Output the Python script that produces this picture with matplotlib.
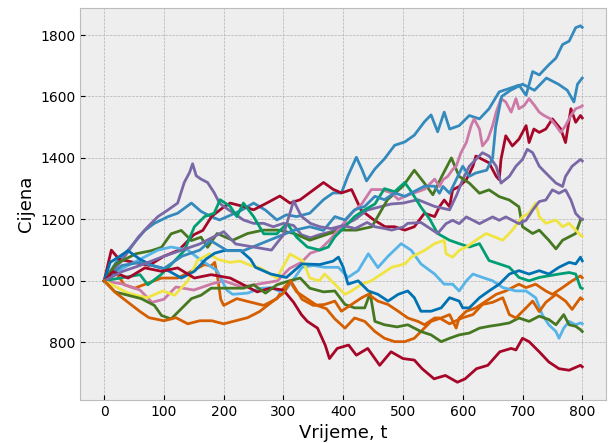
import matplotlib
matplotlib.use("Agg")
import matplotlib.pyplot as plt

plt.style.use("bmh")

# ---- data (time t, price) ----
blue_a_t = [0, 20, 40, 68, 84, 107, 123, 146, 162, 179, 193, 206, 230, 250, 270, 289, 305, 322, 344, 367, 383, 397, 408, 422, 431, 439, 453, 469, 486, 503, 519, 536, 547, 558, 569, 578, 594, 611, 628, 644, 661, 678, 694, 706, 717, 728, 744, 756, 767, 778, 789, 797, 800]
blue_a_y = [1000, 1060, 1100, 1164, 1187, 1209, 1220, 1253, 1226, 1209, 1198, 1209, 1230, 1253, 1230, 1198, 1215, 1209, 1220, 1264, 1286, 1286, 1342, 1402, 1364, 1325, 1364, 1397, 1441, 1452, 1474, 1518, 1540, 1485, 1549, 1494, 1505, 1538, 1527, 1560, 1615, 1626, 1637, 1604, 1681, 1670, 1703, 1725, 1769, 1780, 1824, 1830, 1825]

red_a_t = [0, 12, 25, 50, 75, 100, 125, 150, 165, 180, 200, 211, 233, 250, 272, 294, 311, 328, 344, 367, 383, 397, 414, 430, 450, 470, 486, 503, 519, 536, 553, 561, 569, 578, 583, 594, 606, 617, 622, 633, 644, 656, 661, 664, 672, 683, 694, 706, 711, 719, 728, 739, 750, 764, 772, 781, 789, 797, 800]
red_a_y = [1000, 1100, 1070, 1060, 1050, 1080, 1100, 1150, 1164, 1210, 1240, 1253, 1242, 1231, 1253, 1276, 1253, 1264, 1287, 1320, 1298, 1286, 1297, 1230, 1200, 1176, 1176, 1165, 1176, 1220, 1209, 1241, 1263, 1241, 1296, 1307, 1329, 1373, 1406, 1395, 1384, 1340, 1329, 1395, 1472, 1439, 1461, 1505, 1450, 1494, 1483, 1494, 1527, 1494, 1450, 1560, 1516, 1538, 1530]

purple_a_t = [0, 29, 57, 73, 90, 107, 123, 134, 143, 148, 154, 162, 173, 184, 193, 200, 217, 233, 250, 267, 283, 300, 317, 330, 345, 360, 380, 400, 420, 440, 460, 480, 500, 525, 553, 578, 590, 600, 611, 622, 633, 644, 656, 664, 678, 689, 700, 708, 717, 728, 739, 756, 767, 772, 783, 797, 800]
purple_a_y = [1000, 1064, 1142, 1176, 1209, 1231, 1253, 1320, 1353, 1381, 1342, 1331, 1320, 1287, 1253, 1242, 1220, 1198, 1187, 1187, 1176, 1187, 1180, 1150, 1140, 1150, 1160, 1180, 1200, 1230, 1240, 1250, 1253, 1264, 1242, 1231, 1280, 1330, 1373, 1395, 1417, 1406, 1373, 1318, 1340, 1373, 1395, 1428, 1417, 1373, 1351, 1318, 1307, 1340, 1373, 1395, 1390]

green_a_t = [0, 20, 53, 79, 96, 112, 129, 146, 162, 173, 189, 215, 240, 266, 292, 318, 344, 377, 396, 422, 448, 474, 500, 519, 535, 550, 565, 581, 594, 611, 628, 644, 661, 678, 694, 700, 717, 728, 744, 756, 767, 778, 789, 797, 800]
green_a_y = [1000, 1055, 1088, 1098, 1109, 1153, 1164, 1131, 1142, 1109, 1154, 1132, 1154, 1165, 1165, 1154, 1132, 1154, 1165, 1165, 1176, 1264, 1308, 1360, 1320, 1280, 1340, 1400, 1340, 1318, 1285, 1296, 1274, 1263, 1241, 1176, 1154, 1165, 1132, 1104, 1132, 1143, 1154, 1198, 1200]

orange_a_t = [0, 18, 34, 51, 70, 96, 123, 146, 168, 179, 185, 190, 195, 200, 222, 244, 267, 289, 300, 311, 322, 339, 356, 372, 386, 403, 419, 436, 453, 469, 486, 503, 519, 530, 547, 564, 578, 589, 594, 606, 622, 639, 656, 672, 694, 706, 722, 739, 750, 767, 783, 797, 800]
orange_a_y = [1000, 1031, 987, 976, 990, 1009, 1009, 1031, 1053, 1048, 1060, 1009, 940, 920, 942, 931, 920, 942, 976, 998, 964, 942, 920, 909, 876, 846, 879, 868, 835, 813, 802, 802, 813, 835, 868, 879, 890, 846, 879, 901, 912, 934, 956, 967, 989, 978, 989, 967, 956, 978, 1000, 1016, 1010]

pink_t = [0, 30, 60, 80, 100, 120, 150, 180, 200, 230, 260, 290, 310, 330, 345, 360, 377, 396, 414, 431, 447, 464, 481, 492, 510, 536, 553, 561, 567, 575, 583, 589, 597, 606, 614, 619, 628, 633, 642, 650, 656, 664, 672, 681, 689, 694, 703, 711, 720, 728, 736, 747, 756, 764, 772, 781, 789, 797, 800]
pink_y = [1000, 990, 970, 930, 940, 980, 970, 990, 1000, 980, 990, 1000, 1040, 1060, 1090, 1100, 1132, 1176, 1220, 1250, 1297, 1297, 1286, 1265, 1280, 1298, 1331, 1307, 1329, 1340, 1362, 1373, 1417, 1450, 1505, 1527, 1494, 1439, 1461, 1505, 1549, 1593, 1582, 1549, 1593, 1560, 1571, 1593, 1571, 1549, 1538, 1527, 1505, 1483, 1505, 1538, 1560, 1566, 1570]

lightblue_t = [0, 30, 60, 90, 112, 140, 160, 189, 205, 215, 240, 260, 280, 300, 315, 331, 350, 369, 392, 408, 425, 442, 458, 475, 497, 514, 530, 553, 569, 583, 594, 606, 617, 633, 650, 667, 689, 706, 722, 733, 744, 756, 761, 769, 778, 789, 797, 800]
lightblue_y = [1000, 1040, 1070, 1100, 1110, 1100, 1070, 1033, 970, 956, 960, 975, 978, 960, 1000, 1044, 1050, 1044, 1044, 1011, 1033, 1088, 1043, 1080, 1121, 1099, 1055, 1022, 989, 989, 967, 1000, 1022, 1011, 1000, 978, 967, 967, 945, 890, 857, 835, 813, 846, 868, 857, 863, 860]

teal_t = [0, 30, 60, 73, 95, 112, 134, 151, 168, 184, 194, 211, 222, 233, 250, 267, 289, 306, 322, 340, 361, 375, 386, 403, 419, 436, 453, 469, 486, 503, 514, 530, 545, 558, 578, 594, 611, 628, 644, 661, 678, 694, 711, 728, 761, 778, 789, 797, 800]
teal_y = [1000, 1010, 1020, 987, 1020, 1053, 1098, 1176, 1209, 1220, 1264, 1242, 1209, 1253, 1209, 1153, 1153, 1187, 1142, 1110, 1100, 1110, 1143, 1176, 1209, 1231, 1250, 1300, 1290, 1320, 1290, 1240, 1200, 1154, 1132, 1121, 1110, 1121, 1066, 1055, 1044, 1011, 1000, 1011, 1022, 1027, 1022, 978, 975]

yellow_t = [0, 20, 40, 60, 72, 98, 118, 140, 156, 176, 190, 210, 228, 245, 261, 289, 311, 333, 344, 360, 369, 386, 403, 414, 431, 447, 464, 481, 503, 514, 536, 553, 569, 572, 583, 594, 606, 622, 639, 667, 683, 700, 711, 722, 728, 739, 756, 767, 778, 789, 797, 800]
yellow_y = [1000, 980, 960, 950, 945, 967, 953, 1000, 1066, 1088, 1070, 1060, 1064, 1050, 1042, 1009, 1087, 1064, 1009, 1000, 1022, 989, 956, 967, 989, 1000, 1022, 1044, 1055, 1077, 1099, 1121, 1132, 1088, 1077, 1099, 1110, 1132, 1154, 1132, 1165, 1209, 1220, 1253, 1209, 1187, 1198, 1176, 1187, 1165, 1148, 1145]

darkblue_t = [0, 10, 23, 40, 60, 80, 96, 110, 129, 151, 170, 185, 202, 228, 245, 253, 279, 305, 331, 361, 383, 392, 400, 408, 425, 442, 458, 475, 492, 508, 519, 530, 547, 564, 578, 594, 600, 611, 628, 644, 661, 678, 694, 711, 728, 744, 761, 778, 789, 797, 800]
darkblue_y = [1000, 1060, 1076, 1098, 1070, 1050, 1042, 1030, 1009, 1031, 1070, 1090, 1099, 1099, 1070, 1044, 1022, 1011, 1055, 1053, 1064, 1077, 1044, 989, 1000, 967, 956, 934, 956, 967, 945, 901, 901, 912, 945, 934, 912, 912, 945, 967, 989, 1022, 1033, 1022, 1033, 1022, 1044, 1060, 1055, 1077, 1065]

blue_b_t = [0, 30, 60, 100, 130, 160, 178, 206, 233, 261, 289, 317, 344, 367, 386, 403, 419, 436, 453, 469, 486, 503, 536, 553, 561, 567, 578, 589, 600, 611, 622, 640, 650, 655, 665, 680, 700, 720, 740, 760, 775, 786, 792, 800]
blue_b_y = [1000, 1050, 1060, 1040, 1080, 1100, 1131, 1098, 1098, 1120, 1142, 1164, 1176, 1164, 1209, 1198, 1231, 1242, 1275, 1264, 1286, 1275, 1308, 1308, 1285, 1307, 1285, 1329, 1373, 1340, 1351, 1360, 1400, 1500, 1600, 1620, 1640, 1620, 1660, 1640, 1620, 1582, 1640, 1660]

red_b_t = [0, 15, 40, 68, 96, 123, 151, 179, 211, 233, 256, 278, 300, 317, 330, 340, 357, 370, 377, 390, 409, 422, 441, 461, 480, 500, 519, 532, 552, 571, 591, 604, 623, 642, 662, 681, 689, 700, 711, 728, 744, 761, 778, 797, 800]
red_b_y = [1000, 1030, 1009, 1042, 1031, 1042, 1009, 1020, 1009, 987, 964, 976, 970, 930, 890, 868, 846, 790, 747, 780, 791, 758, 780, 725, 769, 747, 742, 714, 681, 692, 670, 681, 714, 725, 769, 780, 775, 813, 802, 769, 736, 714, 709, 725, 720]

purple_b_t = [0, 30, 60, 100, 130, 160, 180, 200, 220, 250, 280, 300, 317, 330, 345, 361, 380, 400, 420, 440, 453, 470, 481, 500, 508, 530, 558, 572, 583, 594, 606, 617, 628, 639, 650, 661, 672, 694, 706, 717, 728, 739, 750, 761, 772, 781, 789, 797, 800]
purple_b_y = [1000, 1030, 1050, 1080, 1100, 1120, 1140, 1160, 1120, 1110, 1100, 1150, 1260, 1210, 1187, 1176, 1170, 1180, 1170, 1190, 1176, 1170, 1165, 1175, 1187, 1190, 1154, 1186, 1197, 1186, 1208, 1197, 1186, 1197, 1208, 1197, 1208, 1186, 1197, 1230, 1258, 1263, 1296, 1285, 1296, 1263, 1219, 1203, 1200]

green_b_t = [0, 18, 40, 62, 84, 96, 112, 129, 146, 162, 179, 200, 233, 250, 270, 289, 310, 328, 344, 367, 386, 403, 419, 436, 445, 453, 469, 490, 508, 530, 547, 564, 578, 594, 611, 628, 644, 661, 678, 694, 711, 728, 744, 756, 769, 778, 789, 797, 800]
green_b_y = [1000, 964, 953, 942, 920, 887, 876, 909, 942, 953, 976, 976, 976, 987, 960, 987, 1000, 1009, 976, 964, 967, 923, 912, 912, 960, 868, 857, 850, 857, 835, 824, 802, 813, 824, 830, 846, 852, 857, 863, 879, 868, 885, 874, 857, 890, 857, 852, 841, 835]

orange_b_t = [0, 20, 40, 60, 75, 100, 120, 140, 160, 180, 200, 220, 240, 260, 280, 300, 312, 331, 350, 369, 386, 397, 414, 431, 442, 458, 475, 492, 508, 525, 536, 553, 561, 578, 600, 617, 633, 650, 667, 678, 689, 706, 717, 728, 739, 756, 772, 783, 797, 800]
orange_b_y = [1000, 960, 930, 900, 880, 870, 880, 860, 870, 870, 860, 870, 880, 900, 930, 960, 1000, 940, 920, 923, 934, 901, 923, 945, 956, 934, 923, 901, 879, 868, 857, 879, 879, 860, 880, 890, 923, 930, 945, 890, 879, 912, 934, 900, 930, 956, 934, 907, 945, 940]

series = [
    (blue_a_t, blue_a_y), (red_a_t, red_a_y), (purple_a_t, purple_a_y),
    (green_a_t, green_a_y), (orange_a_t, orange_a_y), (pink_t, pink_y),
    (lightblue_t, lightblue_y), (teal_t, teal_y), (yellow_t, yellow_y),
    (darkblue_t, darkblue_y), (blue_b_t, blue_b_y), (red_b_t, red_b_y),
    (purple_b_t, purple_b_y), (green_b_t, green_b_y), (orange_b_t, orange_b_y),
]

fig = plt.figure(figsize=(6.08, 4.43), dpi=100)
ax = fig.add_axes([0.132, 0.097, 0.865, 0.885])
for t, y in series:
    ax.plot(t, y, linewidth=2)

ax.set_xlabel("Vrijeme, t", fontsize=13)
ax.set_ylabel("Cijena", fontsize=13)
ax.tick_params(labelsize=10)
fig.savefig("out.png", dpi=100)
